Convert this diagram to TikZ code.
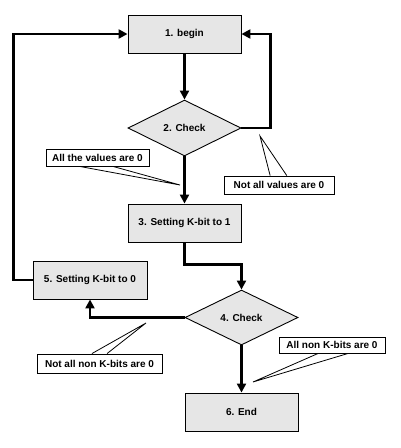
\documentclass[tikz,border=0pt]{standalone}
\usepackage{fontspec}
\setmainfont{Liberation Sans}
\usetikzlibrary{arrows.meta,shapes.geometric,calc}
\definecolor{boxfill}{RGB}{230,230,230}
\tikzset{
  stepbox/.style={draw=black, line width=0.9pt, fill=boxfill, rectangle, inner sep=0pt,
    minimum width=113pt, minimum height=38pt, font=\fontsize{10}{12}\selectfont\bfseries},
  checkbox/.style={draw=black, line width=0.9pt, fill=boxfill, diamond, aspect=2, inner sep=0pt,
    minimum width=113pt, minimum height=56pt, font=\fontsize{10}{12}\selectfont\bfseries},
  conn/.style={line width=2.6pt, -{Triangle[length=9pt,width=9pt]}, line join=miter},
  callout/.style={draw=black, line width=0.9pt, fill=white, rectangle, inner sep=0pt,
    font=\fontsize{10}{12}\selectfont\bfseries},
  wedge/.style={draw=black, line width=0.8pt}
}
\begin{document}
\begin{tikzpicture}[x=1pt,y=-1pt]
\useasboundingbox (0,0) rectangle (400,448);
% main nodes
\node[stepbox] (b1) at (184.5,34) {1. begin};
\node[checkbox] (d2) at (184.5,128) {2. Check};
\node[stepbox] (b3) at (184.5,223) {3. Setting K-bit to 1};
\node[stepbox, minimum width=114pt] (b5) at (90,280) {5. Setting K-bit to 0};
\node[checkbox, minimum height=55pt] (d4) at (241.5,317.5) {4. Check};
\node[stepbox] (b6) at (241.5,412) {6. End};
% connectors
\draw[conn] (b1.south) -- (d2.north);
\draw[conn] (d2.east) -- ++(29,0) |- (b1.east);
\draw[conn] (d2.south) -- (b3.north);
\draw[conn] (b3.south) -- ++(0,22) -| (d4.north);
\draw[conn] (d4.west) -| (b5.south);
\draw[conn] (b5.west) -- ++(-19,0) |- (b1.west);
\draw[conn] (d4.south) -- (b6.north);
% callouts
\node[callout, minimum width=103pt, minimum height=17pt] (c1) at (97.5,157.5) {All the values are 0};
\coordinate (t1) at (180,185);
\draw[wedge] ($(c1.south west)!0.33!(c1.south east)$) -- (t1) -- ($(c1.south west)!0.65!(c1.south east)$);

\node[callout, minimum width=110pt, minimum height=18pt] (c2) at (279,185) {Not all values are 0};
\coordinate (t2) at (260,136);
\draw[wedge] ($(c2.north west)!0.42!(c2.north east)$) -- (t2) -- ($(c2.north west)!0.57!(c2.north east)$);

\node[callout, minimum width=125pt, minimum height=19pt] (c3) at (99.5,363.5) {Not all non K-bits are 0};
\coordinate (t3) at (146,323);
\draw[wedge] ($(c3.north west)!0.44!(c3.north east)$) -- (t3) -- ($(c3.north west)!0.56!(c3.north east)$);

\node[callout, minimum width=106pt, minimum height=16pt] (c4) at (332,345) {All non K-bits are 0};
\coordinate (t4) at (253,382);
\draw[wedge] ($(c4.south west)!0.37!(c4.south east)$) -- (t4) -- ($(c4.south west)!0.65!(c4.south east)$);
\end{tikzpicture}
\end{document}
